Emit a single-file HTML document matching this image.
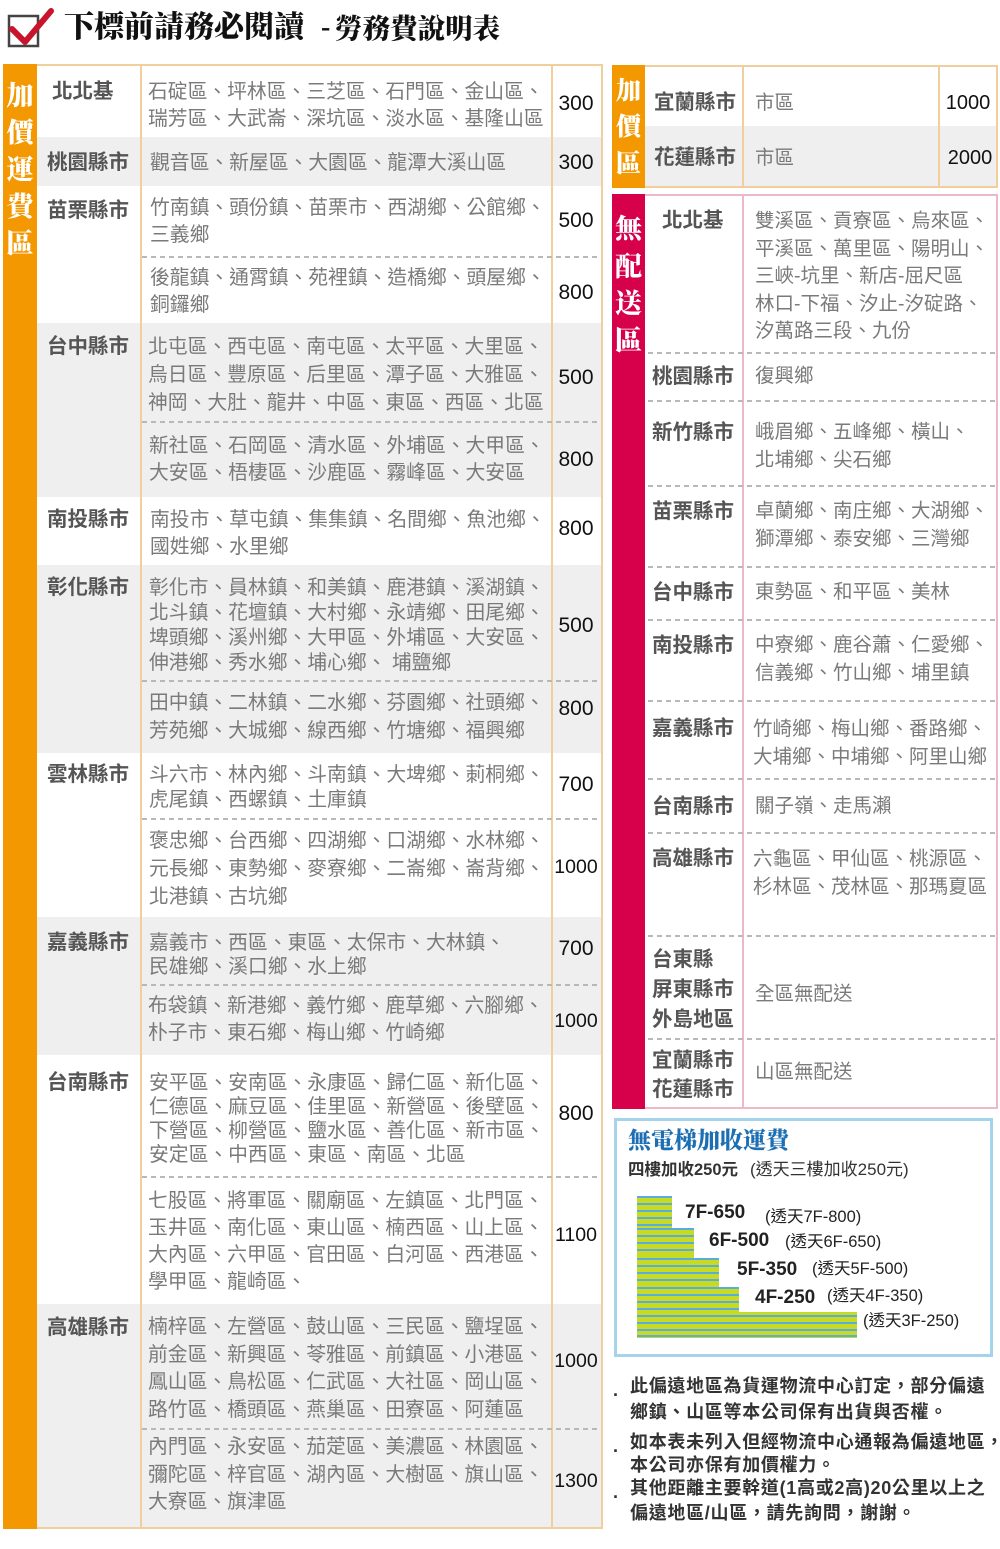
<!DOCTYPE html>
<html><head><meta charset="utf-8">
<style>
*{margin:0;padding:0;box-sizing:border-box}
html,body{width:1000px;height:1549px;background:#fff;overflow:hidden}
body{position:relative;font-family:"Liberation Sans","Noto Sans CJK TC",sans-serif}
.a{position:absolute;white-space:nowrap}
.l{position:absolute;white-space:nowrap;font-size:19.8px;color:#7a7a7a;left:148px}
.r{position:absolute;white-space:nowrap;font-size:19.5px;color:#7a7a7a;left:755px}
.g{position:absolute;white-space:nowrap;font-size:20.5px;font-weight:bold;color:#555;line-height:28px;left:47px}
.gr{position:absolute;white-space:nowrap;font-size:20.5px;font-weight:bold;color:#555;line-height:28px;left:652px}
.p{position:absolute;white-space:nowrap;font-family:"Liberation Sans",sans-serif;font-size:21px;color:#111;line-height:28px;left:551px;width:50px;text-align:center}
.p4{font-size:19.5px}
.bg{position:absolute;background:#efefef}
.vl{position:absolute;width:2px;background:#f0cf9c}
.vp{position:absolute;width:2px;background:#ebb8cc}
.d{position:absolute;height:2px;background:repeating-linear-gradient(to right,#b8b8b8 0 5px,transparent 5px 9px)}
.vt{position:absolute;color:#fff;font-family:"Liberation Serif","Noto Serif CJK SC",serif;font-weight:900;text-align:center;white-space:normal}
.n{position:absolute;white-space:nowrap;font-size:18px;font-weight:bold;color:#333;line-height:24px;letter-spacing:0.7px;left:630px}
.b{position:absolute;font-size:18px;font-weight:bold;color:#333;line-height:24px;left:613px}
.st{position:absolute;white-space:nowrap;font-family:"Liberation Sans",sans-serif;font-size:19px;font-weight:bold;color:#222;line-height:24px}
.sp{position:absolute;white-space:nowrap;font-size:16.5px;color:#222;line-height:22px}
</style></head><body>

<!-- graphics -->
<svg class="a" style="left:0;top:0" width="1000" height="1549">
  <rect x="9" y="16" width="29" height="30" fill="none" stroke="#444" stroke-width="2.5"/>
  <path d="M12 29 L25 42 L51 11" fill="none" stroke="#c9152c" stroke-width="6" stroke-linecap="round" stroke-linejoin="round"/>
  <defs>
    <clipPath id="stair">
      <polygon points="637,1196 672,1196 672,1228 694,1228 694,1258 719,1258 719,1287 739,1287 739,1312 857,1312 857,1338 637,1338"/>
    </clipPath>
  </defs>
  <g clip-path="url(#stair)">
    <rect x="630" y="1190" width="240" height="155" fill="#c8da22"/>
    <g stroke="#58ace0" stroke-width="2">
      <line x1="630" y1="1197" x2="870" y2="1197"/>
      <line x1="630" y1="1204" x2="870" y2="1204"/>
      <line x1="630" y1="1211" x2="870" y2="1211"/>
      <line x1="630" y1="1218" x2="870" y2="1218"/>
      <line x1="630" y1="1225" x2="870" y2="1225"/>
      <line x1="630" y1="1229" x2="870" y2="1229"/>
      <line x1="630" y1="1236" x2="870" y2="1236"/>
      <line x1="630" y1="1243" x2="870" y2="1243"/>
      <line x1="630" y1="1250" x2="870" y2="1250"/>
      <line x1="630" y1="1259" x2="870" y2="1259"/>
      <line x1="630" y1="1266" x2="870" y2="1266"/>
      <line x1="630" y1="1273" x2="870" y2="1273"/>
      <line x1="630" y1="1280" x2="870" y2="1280"/>
      <line x1="630" y1="1288" x2="870" y2="1288"/>
      <line x1="630" y1="1295" x2="870" y2="1295"/>
      <line x1="630" y1="1302" x2="870" y2="1302"/>
      <line x1="630" y1="1309" x2="870" y2="1309"/>
      <line x1="630" y1="1316" x2="870" y2="1316"/>
      <line x1="630" y1="1323" x2="870" y2="1323"/>
      <line x1="630" y1="1330" x2="870" y2="1330"/>
      <line x1="630" y1="1336" x2="870" y2="1336"/>
    </g>
  </g>
</svg>

<!-- title -->
<div class="a" style="left:64px;top:8px;font-family:'Liberation Serif','Noto Serif CJK SC',serif;font-weight:900;font-size:30px;line-height:40px;color:#111">下標前請務必閱讀</div>
<div class="a" style="left:321px;top:8px;font-family:'Liberation Serif','Noto Serif CJK SC',serif;font-weight:900;font-size:28px;line-height:40px;color:#111">-</div>
<div class="a" style="left:335px;top:9px;font-family:'Liberation Serif','Noto Serif CJK SC',serif;font-weight:900;font-size:27.5px;line-height:40px;color:#111">勞務費說明表</div>

<!-- LEFT TABLE -->
<div class="bg" style="left:37px;top:137px;width:564px;height:49px"></div>
<div class="bg" style="left:37px;top:323px;width:564px;height:174px"></div>
<div class="bg" style="left:37px;top:565px;width:564px;height:188px"></div>
<div class="bg" style="left:37px;top:917px;width:564px;height:138px"></div>
<div class="bg" style="left:37px;top:1304px;width:564px;height:223px"></div>
<div class="a" style="left:3px;top:64px;width:600px;height:1465px;border:2px solid #f0cf9c"></div>
<div class="vl" style="left:140px;top:65px;height:1463px"></div>
<div class="vl" style="left:551px;top:65px;height:1463px"></div>
<div class="a" style="left:3px;top:64px;width:34px;height:1465px;background:#f39800"></div>
<div class="vt" style="left:3px;top:78px;width:34px;font-size:27px;line-height:37px">加<br>價<br>運<br>費<br>區</div>

<!-- dashed lines left -->
<div class="d" style="left:142px;top:256px;width:459px"></div>
<div class="d" style="left:142px;top:421px;width:459px"></div>
<div class="d" style="left:142px;top:680px;width:459px"></div>
<div class="d" style="left:142px;top:818px;width:459px"></div>
<div class="d" style="left:142px;top:984px;width:459px"></div>
<div class="d" style="left:142px;top:1176px;width:459px"></div>
<div class="d" style="left:142px;top:1428px;width:459px"></div>

<!-- labels left -->
<div class="g" style="left:52px;top:78px">北北基</div>
<div class="g" style="top:149px">桃園縣市</div>
<div class="g" style="top:197px">苗栗縣市</div>
<div class="g" style="top:333px">台中縣市</div>
<div class="g" style="top:506px">南投縣市</div>
<div class="g" style="top:574px">彰化縣市</div>
<div class="g" style="top:761px">雲林縣市</div>
<div class="g" style="top:929px">嘉義縣市</div>
<div class="g" style="top:1069px">台南縣市</div>
<div class="g" style="top:1314px">高雄縣市</div>

<!-- lists left -->
<div class="l" style="top:78.5px;line-height:27px">石碇區、坪林區、三芝區、石門區、金山區、<br>瑞芳區、大武崙、深坑區、淡水區、基隆山區</div>
<div class="l" style="top:149.5px;line-height:27px;left:150px">觀音區、新屋區、大園區、龍潭大溪山區</div>
<div class="l" style="top:194.5px;line-height:27px;left:150px">竹南鎮、頭份鎮、苗栗市、西湖鄉、公館鄉、<br>三義鄉</div>
<div class="l" style="top:264.5px;line-height:27px;left:150px">後龍鎮、通霄鎮、苑裡鎮、造橋鄉、頭屋鄉、<br>銅鑼鄉</div>
<div class="l" style="top:333px;line-height:28px">北屯區、西屯區、南屯區、太平區、大里區、<br>烏日區、豐原區、后里區、潭子區、大雅區、<br>神岡、大肚、龍井、中區、東區、西區、北區</div>
<div class="l" style="top:432.5px;line-height:27px;left:149px">新社區、石岡區、清水區、外埔區、大甲區、<br>大安區、梧棲區、沙鹿區、霧峰區、大安區</div>
<div class="l" style="top:506.5px;line-height:27px;left:150px">南投市、草屯鎮、集集鎮、名間鄉、魚池鄉、<br>國姓鄉、水里鄉</div>
<div class="l" style="top:575.5px;line-height:25px;left:149px">彰化市、員林鎮、和美鎮、鹿港鎮、溪湖鎮、<br>北斗鎮、花壇鎮、大村鄉、永靖鄉、田尾鄉、<br>埤頭鄉、溪州鄉、大甲區、外埔區、大安區、<br>伸港鄉、秀水鄉、埔心鄉、 埔鹽鄉</div>
<div class="l" style="top:689px;line-height:28px;left:149px">田中鎮、二林鎮、二水鄉、芬園鄉、社頭鄉、<br>芳苑鄉、大城鄉、線西鄉、竹塘鄉、福興鄉</div>
<div class="l" style="top:762.5px;line-height:25px;left:149px">斗六市、林內鄉、斗南鎮、大埤鄉、莿桐鄉、<br>虎尾鎮、西螺鎮、土庫鎮</div>
<div class="l" style="top:827px;line-height:28px;left:149px">褒忠鄉、台西鄉、四湖鄉、口湖鄉、水林鄉、<br>元長鄉、東勢鄉、麥寮鄉、二崙鄉、崙背鄉、<br>北港鎮、古坑鄉</div>
<div class="l" style="top:931px;line-height:24px;left:149px">嘉義市、西區、東區、太保市、大林鎮、<br>民雄鄉、溪口鄉、水上鄉</div>
<div class="l" style="top:992.5px;line-height:27px">布袋鎮、新港鄉、義竹鄉、鹿草鄉、六腳鄉、<br>朴子市、東石鄉、梅山鄉、竹崎鄉</div>
<div class="l" style="top:1071px;line-height:24px;left:149px">安平區、安南區、永康區、歸仁區、新化區、<br>仁德區、麻豆區、佳里區、新營區、後壁區、<br>下營區、柳營區、鹽水區、善化區、新市區、<br>安定區、中西區、東區、南區、北區</div>
<div class="l" style="top:1187.5px;line-height:27.3px">七股區、將軍區、關廟區、左鎮區、北門區、<br>玉井區、南化區、東山區、楠西區、山上區、<br>大內區、六甲區、官田區、白河區、西港區、<br>學甲區、龍崎區、</div>
<div class="l" style="top:1314px;line-height:27.7px">楠梓區、左營區、鼓山區、三民區、鹽埕區、<br>前金區、新興區、苓雅區、前鎮區、小港區、<br>鳳山區、鳥松區、仁武區、大社區、岡山區、<br>路竹區、橋頭區、燕巢區、田寮區、阿蓮區</div>
<div class="l" style="top:1434px;line-height:27.5px">內門區、永安區、茄萣區、美濃區、林園區、<br>彌陀區、梓官區、湖內區、大樹區、旗山區、<br>大寮區、旗津區</div>

<!-- prices left -->
<div class="p" style="top:90px">300</div>
<div class="p" style="top:149px">300</div>
<div class="p" style="top:207px">500</div>
<div class="p" style="top:279px">800</div>
<div class="p" style="top:364px">500</div>
<div class="p" style="top:446px">800</div>
<div class="p" style="top:515px">800</div>
<div class="p" style="top:612px">500</div>
<div class="p" style="top:695px">800</div>
<div class="p" style="top:771px">700</div>
<div class="p p4" style="top:853px">1000</div>
<div class="p" style="top:935px">700</div>
<div class="p p4" style="top:1007px">1000</div>
<div class="p" style="top:1100px">800</div>
<div class="p p4" style="top:1221px">1100</div>
<div class="p p4" style="top:1347px">1000</div>
<div class="p p4" style="top:1467px">1300</div>

<!-- RIGHT: 加價區 -->
<div class="bg" style="left:645px;top:126px;width:352px;height:61px"></div>
<div class="a" style="left:612px;top:65px;width:386px;height:123px;border:2px solid #f0cf9c"></div>
<div class="vl" style="left:742px;top:66px;height:121px"></div>
<div class="vl" style="left:938px;top:66px;height:121px"></div>
<div class="a" style="left:612px;top:65px;width:33px;height:123px;background:#f39800"></div>
<div class="vt" style="left:612px;top:73.5px;width:33px;font-size:25px;line-height:36.5px">加<br>價<br>區</div>
<div class="gr" style="left:654px;top:89px">宜蘭縣市</div>
<div class="gr" style="left:654px;top:144px">花蓮縣市</div>
<div class="r" style="top:89px;line-height:28px">市區</div>
<div class="r" style="top:144px;line-height:28px">市區</div>
<div class="p p4" style="left:939px;width:58px;top:89px;font-size:20px">1000</div>
<div class="p p4" style="left:941px;width:58px;top:144px;font-size:20px">2000</div>

<!-- RIGHT: 無配送區 -->
<div class="a" style="left:612px;top:194px;width:386px;height:915px;border:2px solid #ebb8cc"></div>
<div class="vp" style="left:742px;top:195px;height:913px"></div>
<div class="a" style="left:612px;top:194px;width:33px;height:915px;background:#d6004b"></div>
<div class="vt" style="left:612px;top:211.3px;width:33px;font-size:27px;line-height:37.3px">無<br>配<br>送<br>區</div>

<div class="d" style="left:648px;top:352px;width:349px"></div>
<div class="d" style="left:648px;top:400px;width:349px"></div>
<div class="d" style="left:648px;top:485px;width:349px"></div>
<div class="d" style="left:648px;top:566px;width:349px"></div>
<div class="d" style="left:648px;top:619px;width:349px"></div>
<div class="d" style="left:648px;top:700px;width:349px"></div>
<div class="d" style="left:648px;top:778px;width:349px"></div>
<div class="d" style="left:648px;top:832px;width:349px"></div>
<div class="d" style="left:648px;top:935px;width:349px"></div>
<div class="d" style="left:648px;top:1038px;width:349px"></div>

<div class="gr" style="left:662px;top:207px">北北基</div>
<div class="gr" style="top:363px">桃園縣市</div>
<div class="gr" style="top:419px">新竹縣市</div>
<div class="gr" style="top:498px">苗栗縣市</div>
<div class="gr" style="top:579px">台中縣市</div>
<div class="gr" style="top:632px">南投縣市</div>
<div class="gr" style="top:715px">嘉義縣市</div>
<div class="gr" style="top:793px">台南縣市</div>
<div class="gr" style="top:845px">高雄縣市</div>
<div class="gr" style="top:945px;line-height:30px">台東縣<br>屏東縣市<br>外島地區</div>
<div class="gr" style="top:1046px;line-height:29px">宜蘭縣市<br>花蓮縣市</div>

<div class="r" style="top:208px;line-height:27.5px">雙溪區、貢寮區、烏來區、<br>平溪區、萬里區、陽明山、<br>三峽-坑里、新店-屈尺區<br>林口-下福、汐止-汐碇路、<br>汐萬路三段、九份</div>
<div class="r" style="top:363.25px;line-height:27.5px">復興鄉</div>
<div class="r" style="top:419.25px;line-height:27.5px">峨眉鄉、五峰鄉、橫山、<br>北埔鄉、尖石鄉</div>
<div class="r" style="top:498.25px;line-height:27.5px">卓蘭鄉、南庄鄉、大湖鄉、<br>獅潭鄉、泰安鄉、三灣鄉</div>
<div class="r" style="top:579.25px;line-height:27.5px">東勢區、和平區、美林</div>
<div class="r" style="top:632.25px;line-height:27.5px">中寮鄉、鹿谷蕭、仁愛鄉、<br>信義鄉、竹山鄉、埔里鎮</div>
<div class="r" style="left:753px;top:715px;line-height:28px">竹崎鄉、梅山鄉、番路鄉、<br>大埔鄉、中埔鄉、阿里山鄉</div>
<div class="r" style="top:793.25px;line-height:27.5px">關子嶺、走馬瀨</div>
<div class="r" style="left:753px;top:845px;line-height:28px">六龜區、甲仙區、桃源區、<br>杉林區、茂林區、那瑪夏區</div>
<div class="r" style="top:981.25px;line-height:27.5px">全區無配送</div>
<div class="r" style="top:1059.25px;line-height:27.5px">山區無配送</div>

<!-- Blue box -->
<div class="a" style="left:614px;top:1118px;width:379px;height:239px;border:3px solid #a5d3eb"></div>
<div class="a" style="left:628px;top:1126px;font-family:'Liberation Serif','Noto Serif CJK SC',serif;font-weight:900;font-size:23px;line-height:30px;color:#1d6fb3">無電梯加收運費</div>
<div class="a" style="left:628px;top:1158px;font-size:16.5px;font-weight:bold;color:#333;line-height:24px">四樓加收250元</div>
<div class="a" style="left:750px;top:1158px;font-size:17px;color:#333;line-height:24px">(透天三樓加收250元)</div>

<div class="st" style="left:685px;top:1201px">7F-650</div>
<div class="st" style="left:709px;top:1229px">6F-500</div>
<div class="st" style="left:737px;top:1258px">5F-350</div>
<div class="st" style="left:755px;top:1286px">4F-250</div>
<div class="sp" style="left:765px;top:1206px">(透天7F-800)</div>
<div class="sp" style="left:785px;top:1231px">(透天6F-650)</div>
<div class="sp" style="left:812px;top:1258px">(透天5F-500)</div>
<div class="sp" style="left:827px;top:1285px">(透天4F-350)</div>
<div class="sp" style="left:863px;top:1310px">(透天3F-250)</div>

<!-- notes -->
<div class="b" style="top:1378px">.</div>
<div class="b" style="top:1434px">.</div>
<div class="b" style="top:1480px">.</div>
<div class="n" style="top:1374px">此偏遠地區為貨運物流中心訂定，部分偏遠</div>
<div class="n" style="top:1400px">鄉鎮、山區等本公司保有出貨與否權。</div>
<div class="n" style="top:1430px">如本表未列入但經物流中心通報為偏遠地區，</div>
<div class="n" style="top:1453px">本公司亦保有加價權力。</div>
<div class="n" style="top:1476px">其他距離主要幹道(1高或2高)20公里以上之</div>
<div class="n" style="top:1501px">偏遠地區/山區，請先詢問，謝謝。</div>

</body></html>
